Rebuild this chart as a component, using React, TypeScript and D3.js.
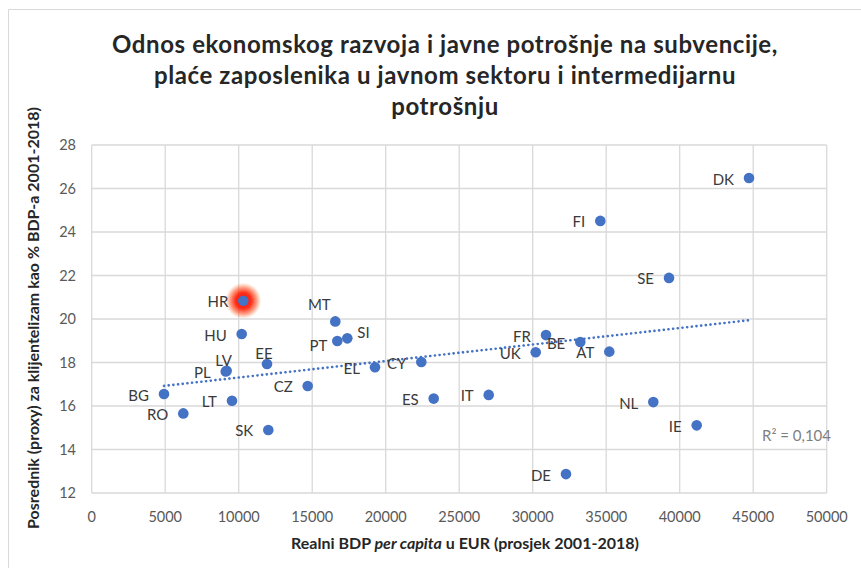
import React from "react";
import * as d3 from "d3";

const countries = ["HR","HU","EE","LV","PL","CZ","BG","LT","RO","SK","MT","PT","SI","EL","CY","ES","IT","UK","FR","BE","AT","DE","DK","FI","SE","NL","IE"];
const gdp = [10313,10204,11925,9180,9120,14694,4918,9544,6231,12014,16571,16707,17388,19272,22422,23265,27007,30204,30905,33238,35211,32265,44714,34599,39272,38204,41156];
const spending = [20.84,19.31,17.93,17.62,17.59,16.92,16.55,16.24,15.66,14.90,19.89,18.99,19.11,17.78,18.02,16.34,16.51,18.47,19.26,18.94,18.50,12.87,26.48,24.51,21.89,16.18,15.11];
// label placement: "l" = left of point, others custom
const labelPos = ["l","l","above","above","l","l","l","l","l","l","aboveLeft","leftLow","right","l","l","l","l","l","l","l","l","l","l","l","l","l","l"];
const xTicks = [0,5000,10000,15000,20000,25000,30000,35000,40000,45000,50000];
const yTicks = [12,14,16,18,20,22,24,26,28];
const titleLines = ["Odnos ekonomskog razvoja i javne potrošnje na subvencije,","plaće zaposlenika u javnom sektoru i intermedijarnu","potrošnju"];
const highlight = "HR";

const W = 861, H = 568;
const FONT = "Lato, Carlito, Calibri, sans-serif";

export default function App() {
  const x = d3.scaleLinear().domain([0, 50000]).range([91.7, 826.7]);
  const y = d3.scaleLinear().domain([12, 28]).range([493, 145]);

  const n = gdp.length;
  const mx = d3.mean(gdp)!, my = d3.mean(spending)!;
  let sxy = 0, sxx = 0, syy = 0;
  for (let i = 0; i < n; i++) {
    sxy += (gdp[i] - mx) * (spending[i] - my);
    sxx += (gdp[i] - mx) ** 2;
    syy += (spending[i] - my) ** 2;
  }
  const slope = sxy / sxx, icpt = my - slope * mx;
  const r2 = (sxy * sxy) / (sxx * syy);
  const x0 = d3.min(gdp)!, x1 = d3.max(gdp)!;
  const trend = d3.line<number>().x(d => x(d)).y(d => y(icpt + slope * d))([x0, x1]);

  return (
    <svg width={W} height={H} style={{ position: "absolute", left: 0, top: 0, display: "block" }} fontFamily={FONT}>
      <defs>
        <radialGradient id="glow">
          <stop offset="0%" stopColor="#ff0000" stopOpacity={1} />
          <stop offset="45%" stopColor="#ff1a00" stopOpacity={0.9} />
          <stop offset="75%" stopColor="#ff3300" stopOpacity={0.45} />
          <stop offset="100%" stopColor="#ff6600" stopOpacity={0} />
        </radialGradient>
      </defs>
      <rect x={0} y={0} width={W} height={H} fill="#fff" />
      <path d={`M8.5,${H} V9.5 H${W}`} fill="none" stroke="#d9d9d9" strokeWidth={1} />
      {titleLines.map((t, i) => (
        <text key={i} x={445} y={53 + i * 31} textAnchor="middle" fontSize={24} letterSpacing={0.6} fontWeight={700} fill="#262626">{t}</text>
      ))}
      {/* grid */}
      {xTicks.map(t => (
        <line key={"gx" + t} x1={x(t)} x2={x(t)} y1={y(28)} y2={y(12)} stroke="#d9d9d9" strokeWidth={1.3} />
      ))}
      {yTicks.map(t => (
        <line key={"gy" + t} x1={x(0)} x2={x(50000)} y1={y(t)} y2={y(t)} stroke="#d9d9d9" strokeWidth={1.3} />
      ))}
      {xTicks.map(t => (
        <text key={"tx" + t} x={x(t)} y={522} textAnchor="middle" fontSize={14.5} fill="#595959">{t}</text>
      ))}
      {yTicks.map(t => (
        <text key={"ty" + t} x={76} y={y(t) + 5} textAnchor="end" fontSize={14.5} fill="#595959">{t}</text>
      ))}
      <text x={465} y={549} textAnchor="middle" fontSize={16} fontWeight={700} fill="#262626">
        Realni BDP <tspan fontStyle="italic">per capita</tspan> u EUR (prosjek 2001-2018)
      </text>
      <text transform={`translate(39,318) rotate(-90)`} textAnchor="middle" fontSize={16} fontWeight={700} fill="#262626">
        Posrednik (proxy) za klijentelizam kao % BDP-a 2001-2018)
      </text>
      {/* highlight glow */}
      {countries.map((c, i) => c === highlight ? (
        <circle key={"g" + c} cx={x(gdp[i])} cy={y(spending[i])} r={18} fill="url(#glow)" />
      ) : null)}
      {/* points */}
      {countries.map((c, i) => (
        <circle key={"p" + c} cx={x(gdp[i])} cy={y(spending[i])} r={5.3} fill="#4472c4" />
      ))}
      {/* trendline */}
      <path d={trend!} fill="none" stroke="#4472c4" strokeWidth={2.6} strokeDasharray="0.1 4.6" strokeLinecap="round" />
      {/* labels */}
      {countries.map((c, i) => {
        const px = x(gdp[i]), py = y(spending[i]);
        const p = labelPos[i];
        let lx = px - 15, ly = py + 6.5, anchor: "end" | "middle" | "start" = "end";
        if (p === "above") { lx = px - 3; ly = py - 5; anchor = "middle"; }
        if (p === "aboveLeft") { lx = px - 16; ly = py - 11; anchor = "middle"; }
        if (p === "leftLow") { lx = px - 10; ly = py + 10; }
        if (p === "right") { lx = px + 10; ly = py + 0; anchor = "start"; }
        return (
          <text key={"l" + c} x={lx} y={ly} textAnchor={anchor} fontSize={15} fill="#3a3a3a">{c}</text>
        );
      })}
      <text x={762} y={441} fontSize={15} fill="#7f7f7f">{`R² = ${r2.toFixed(3).replace(".", ",")}`}</text>
    </svg>
  );
}
